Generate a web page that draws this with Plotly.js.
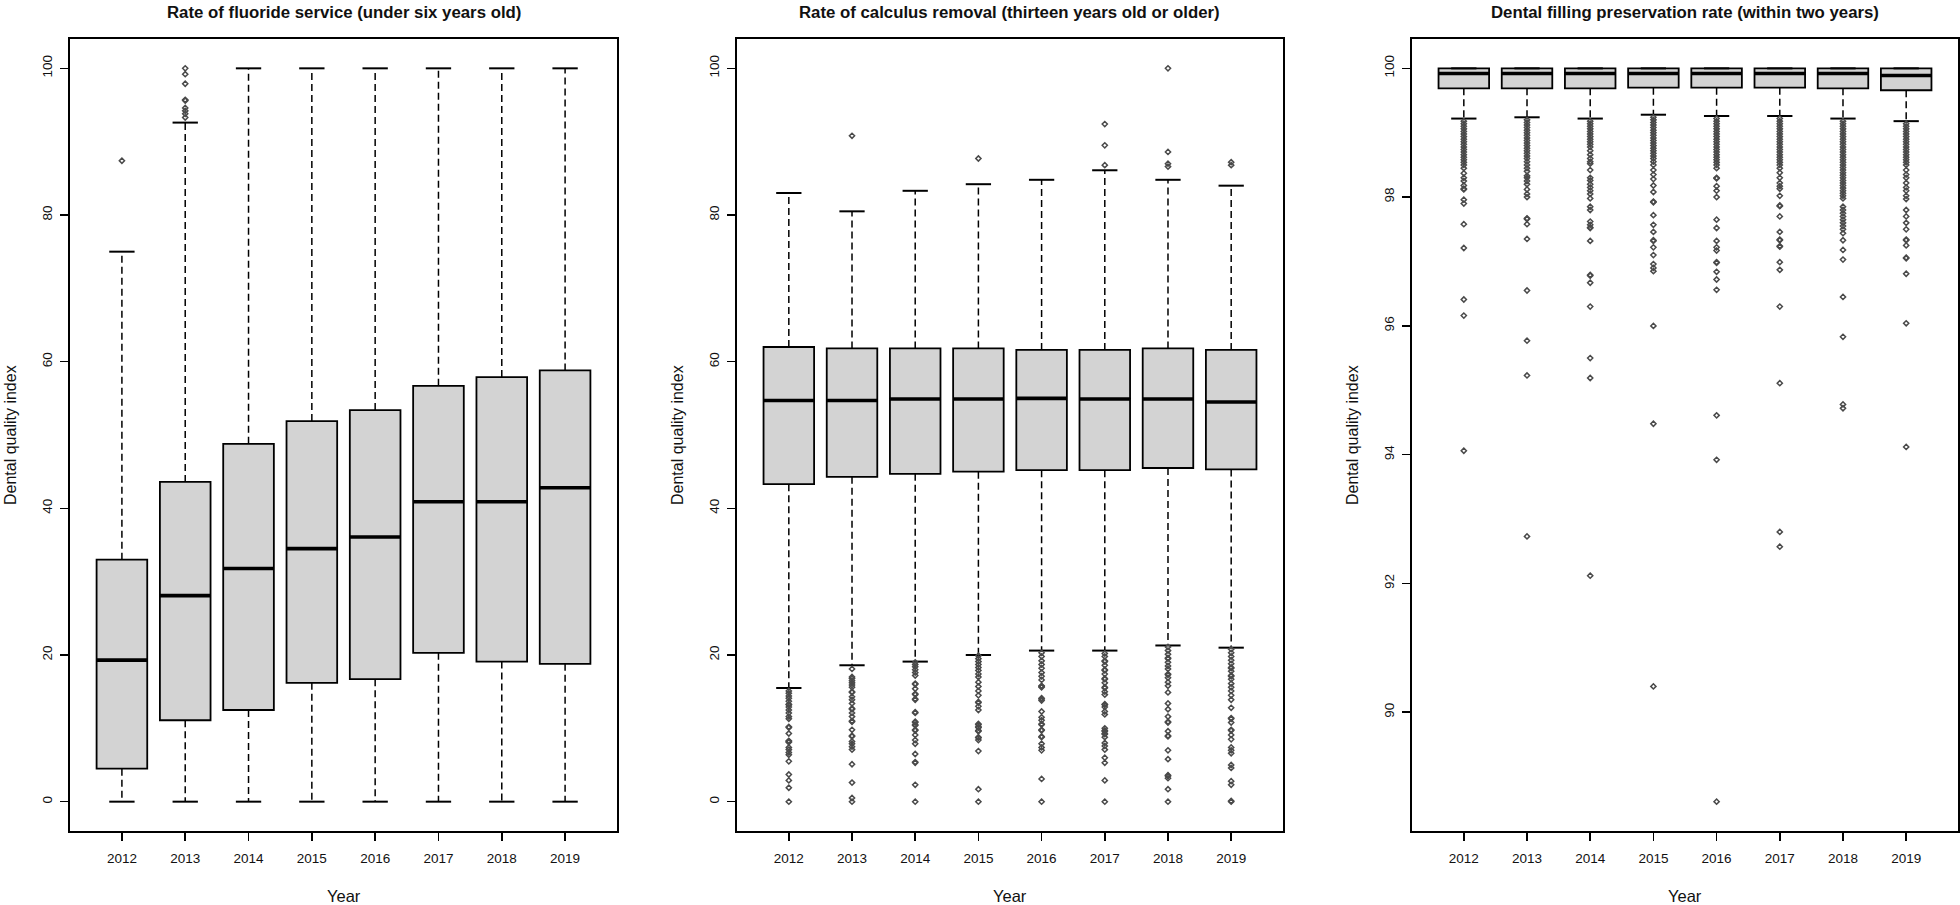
<!DOCTYPE html>
<html><head><meta charset="utf-8">
<script src="https://cdn.plot.ly/plotly-3.0.1.min.js"></script>
<style>html,body{margin:0;padding:0;background:#fff}#chart{width:1960px;height:905px}</style>
</head><body><div id="chart"></div>
<script>
const years = ['2012','2013','2014','2015','2016','2017','2018','2019'];

// Panel 1: Rate of fluoride service (under six years old)
const flQ1  = [4.5, 11.1, 12.5, 16.2, 16.7, 20.3, 19.1, 18.8];
const flMed = [19.3, 28.1, 31.8, 34.5, 36.1, 40.9, 40.9, 42.8];
const flQ3  = [33.0, 43.6, 48.8, 51.9, 53.4, 56.7, 57.9, 58.8];
const flLo  = [0, 0, 0, 0, 0, 0, 0, 0];
const flHi  = [75.0, 92.6, 100, 100, 100, 100, 100, 100];
const flOut = [
  [87.4],
  [100, 99.2, 97.9, 95.7, 95.6, 94.6, 94.2, 93.8, 93.3],
  [], [], [], [], [], []
];

// Panel 2: Rate of calculus removal (thirteen years old or older)
const caQ1  = [43.3, 44.3, 44.7, 45.0, 45.2, 45.2, 45.5, 45.3];
const caMed = [54.7, 54.7, 54.9, 54.9, 55.0, 54.9, 54.9, 54.5];
const caQ3  = [62.0, 61.8, 61.8, 61.8, 61.6, 61.6, 61.8, 61.6];
const caLo  = [15.5, 18.6, 19.1, 20.0, 20.6, 20.6, 21.3, 21.0];
const caHi  = [83.0, 80.5, 83.3, 84.2, 84.8, 86.1, 84.8, 84.0];
const caOut = [
  [15.1, 14.8, 14.4, 14.1, 13.7, 13.3, 13.2, 12.9, 12.5, 12.1, 11.6, 11.3, 10.2, 10.1, 9.3, 8.3, 8.2, 8.1, 7.4, 7.1, 6.7, 6.4, 5.5, 3.7, 2.9, 1.9, 0],
  [90.8, 18.1, 17.0, 16.8, 16.5, 16.2, 15.9, 15.6, 15.0, 14.9, 14.3, 13.9, 13.4, 12.7, 12.6, 12.1, 11.6, 11.0, 10.9, 9.8, 9.0, 8.9, 8.2, 7.9, 7.5, 7.1, 5.1, 2.6, 0.5, 0],
  [19.0, 18.7, 18.4, 18.0, 17.6, 17.2, 16.1, 16.0, 15.4, 14.7, 14.6, 14.0, 13.9, 12.2, 12.1, 10.9, 10.8, 10.5, 10.4, 9.8, 9.7, 9.1, 8.4, 7.9, 6.5, 5.4, 5.3, 2.3, 0],
  [87.7, 19.9, 19.5, 19.1, 18.7, 18.3, 17.9, 17.4, 17.0, 16.3, 15.7, 15.1, 14.5, 13.6, 13.5, 13.0, 12.5, 10.6, 10.5, 10.2, 10.1, 9.7, 9.6, 8.8, 8.7, 8.4, 6.9, 1.7, 0],
  [20.3, 19.8, 19.2, 18.7, 18.2, 17.6, 17.1, 16.6, 15.8, 15.7, 15.6, 14.1, 14.0, 13.8, 12.3, 11.5, 11.1, 10.6, 10.5, 9.8, 9.7, 8.9, 8.8, 7.9, 7.4, 7.0, 3.1, 0],
  [92.4, 89.5, 86.8, 20.2, 19.8, 19.2, 19.1, 18.6, 18.0, 17.9, 17.4, 16.8, 16.7, 16.2, 15.6, 15.5, 15.0, 14.6, 13.3, 13.2, 12.9, 12.3, 11.9, 10.0, 9.7, 9.6, 9.3, 9.2, 8.8, 8.0, 7.6, 7.1, 6.0, 5.3, 2.9, 0],
  [100, 88.6, 87.0, 86.6, 21.1, 20.6, 20.1, 19.6, 19.5, 19.0, 18.5, 18.1, 17.4, 17.3, 16.9, 16.3, 15.8, 14.9, 13.4, 12.6, 11.6, 10.9, 10.8, 9.6, 9.0, 8.9, 7.0, 5.8, 3.6, 3.5, 3.2, 1.7, 0],
  [87.2, 86.8, 20.8, 20.3, 19.8, 19.3, 18.8, 18.3, 18.2, 17.8, 17.2, 17.1, 16.7, 16.1, 15.6, 15.1, 14.5, 13.9, 12.8, 11.4, 11.3, 10.8, 9.8, 9.7, 9.1, 8.5, 7.4, 7.0, 6.6, 5.0, 4.6, 2.8, 2.3, 0.1, 0.0]
];

// Panel 3: Dental filling preservation rate (within two years)
const dfQ1  = [99.69, 99.69, 99.69, 99.70, 99.70, 99.70, 99.69, 99.66];
const dfMed = [99.92, 99.92, 99.92, 99.92, 99.92, 99.92, 99.92, 99.89];
const dfQ3  = [100, 100, 100, 100, 100, 100, 100, 100];
const dfLo  = [99.22, 99.24, 99.22, 99.28, 99.26, 99.26, 99.22, 99.18];
const dfHi  = [100, 100, 100, 100, 100, 100, 100, 100];
const dfOut = [
  [99.18, 99.14, 99.1, 99.06, 99.02, 98.98, 98.94, 98.9, 98.86, 98.82, 98.78, 98.74, 98.7, 98.66, 98.62, 98.58, 98.54, 98.5, 98.45, 98.37, 98.3, 98.25, 98.18, 98.13, 98.12, 97.96, 97.9, 97.58, 97.21, 96.41, 96.16, 94.06],
  [99.2, 99.16, 99.12, 99.08, 99.04, 99.0, 98.96, 98.92, 98.88, 98.84, 98.8, 98.76, 98.72, 98.68, 98.64, 98.6, 98.55, 98.5, 98.45, 98.4, 98.33, 98.3, 98.25, 98.2, 98.12, 98.05, 98.0, 97.67, 97.66, 97.58, 97.35, 96.55, 95.77, 95.23, 92.73],
  [99.18, 99.14, 99.1, 99.06, 99.02, 98.98, 98.94, 98.9, 98.86, 98.82, 98.78, 98.72, 98.66, 98.6, 98.55, 98.52, 98.42, 98.3, 98.26, 98.2, 98.15, 98.1, 98.05, 97.98, 97.85, 97.8, 97.62, 97.57, 97.53, 97.52, 97.32, 96.79, 96.78, 96.67, 96.3, 95.5, 95.19, 92.12],
  [99.24, 99.2, 99.16, 99.12, 99.08, 99.04, 99.0, 98.96, 98.92, 98.88, 98.84, 98.8, 98.76, 98.72, 98.68, 98.64, 98.6, 98.55, 98.5, 98.42, 98.35, 98.28, 98.18, 98.08, 97.93, 97.92, 97.72, 97.57, 97.46, 97.33, 97.32, 97.22, 97.1, 96.96, 96.9, 96.85, 96.0, 94.48, 90.4],
  [99.22, 99.18, 99.14, 99.1, 99.06, 99.02, 98.98, 98.94, 98.9, 98.86, 98.82, 98.78, 98.74, 98.7, 98.66, 98.62, 98.58, 98.54, 98.5, 98.45, 98.3, 98.29, 98.17, 98.1, 98.0, 97.65, 97.52, 97.32, 97.22, 97.17, 96.99, 96.98, 96.84, 96.72, 96.56, 94.61, 93.92, 88.61],
  [99.22, 99.18, 99.14, 99.1, 99.06, 99.02, 98.98, 98.94, 98.9, 98.86, 98.82, 98.78, 98.74, 98.7, 98.66, 98.62, 98.58, 98.54, 98.5, 98.45, 98.38, 98.3, 98.22, 98.17, 98.13, 98.02, 97.87, 97.86, 97.7, 97.46, 97.34, 97.33, 97.24, 97.23, 96.99, 96.87, 96.3, 95.11, 92.8, 92.57],
  [99.18, 99.14, 99.1, 99.06, 99.02, 98.98, 98.94, 98.9, 98.86, 98.82, 98.78, 98.74, 98.7, 98.66, 98.62, 98.58, 98.54, 98.5, 98.46, 98.42, 98.38, 98.34, 98.3, 98.26, 98.22, 98.18, 98.14, 98.1, 98.06, 98.02, 97.98, 97.85, 97.8, 97.75, 97.7, 97.65, 97.6, 97.55, 97.5, 97.44, 97.33, 97.18, 97.03, 96.45, 95.83, 94.78, 94.72],
  [99.14, 99.1, 99.06, 99.02, 98.98, 98.94, 98.9, 98.86, 98.82, 98.78, 98.74, 98.7, 98.66, 98.62, 98.58, 98.54, 98.5, 98.42, 98.35, 98.3, 98.22, 98.15, 98.1, 98.02, 97.97, 97.8, 97.7, 97.6, 97.5, 97.34, 97.33, 97.25, 97.06, 97.05, 96.81, 96.04, 94.12]
];

const titles = [
  'Rate of fluoride service (under six years old)',
  'Rate of calculus removal (thirteen years old or older)',
  'Dental filling preservation rate (within two years)'
];
const xLabel = 'Year';
const yLabel = 'Dental quality index';

const FONT = 'Liberation Sans, Arial, Helvetica, sans-serif';
const W = 1960, H = 905;
const frames = [[70, 617], [737, 1283], [1412, 1958]];
const plotTop = 39, plotBottom = 831;

function panelTraces(q1, med, q3, lo, hi, out, xa, ya) {
  const pos = years.map((_, i) => i + 1);
  const traces = [];
  const wx = [], wy = [];
  pos.forEach((p, i) => { wx.push(p, p, null, p, p, null); wy.push(q3[i], hi[i], null, q1[i], lo[i], null); });
  traces.push({type: 'scatter', mode: 'lines', x: wx, y: wy, xaxis: xa, yaxis: ya,
    line: {color: '#000', width: 1.5, dash: '7px,4px'}, hoverinfo: 'skip', showlegend: false});
  const cx = [], cy = [];
  pos.forEach((p, i) => { cx.push(p - 0.2, p + 0.2, null, p - 0.2, p + 0.2, null); cy.push(hi[i], hi[i], null, lo[i], lo[i], null); });
  traces.push({type: 'scatter', mode: 'lines', x: cx, y: cy, xaxis: xa, yaxis: ya,
    line: {color: '#000', width: 2}, hoverinfo: 'skip', showlegend: false});
  const ox = [], oy = [];
  out.forEach((arr, i) => arr.forEach(v => { ox.push(pos[i]); oy.push(v); }));
  traces.push({type: 'scatter', mode: 'markers', x: ox, y: oy, xaxis: xa, yaxis: ya,
    marker: {symbol: 'diamond-open', size: 4, color: '#4a4a4a', line: {width: 1.5, color: '#4a4a4a'}},
    hoverinfo: 'skip', showlegend: false, cliponaxis: true});
  traces.push({type: 'box', x: pos, q1: q1, median: med, q3: q3, lowerfence: q1, upperfence: q3,
    width: 0.8, fillcolor: '#d3d3d3', line: {color: '#000', width: 1.8}, boxpoints: false,
    whiskerwidth: 0, xaxis: xa, yaxis: ya, showlegend: false, hoverinfo: 'skip'});
  const mx = [], my = [];
  pos.forEach((p, i) => { mx.push(p - 0.4, p + 0.4, null); my.push(med[i], med[i], null); });
  traces.push({type: 'scatter', mode: 'lines', x: mx, y: my, xaxis: xa, yaxis: ya,
    line: {color: '#000', width: 3.6}, hoverinfo: 'skip', showlegend: false});
  return traces;
}

const data = [].concat(
  panelTraces(flQ1, flMed, flQ3, flLo, flHi, flOut, 'x', 'y'),
  panelTraces(caQ1, caMed, caQ3, caLo, caHi, caOut, 'x2', 'y2'),
  panelTraces(dfQ1, dfMed, dfQ3, dfLo, dfHi, dfOut, 'x3', 'y3')
);

const yDomain = [(H - plotBottom) / H, (H - plotTop) / H];
function xAxis(k, anchor) {
  return {
    domain: [frames[k][0] / W, frames[k][1] / W], anchor: anchor,
    range: [0.18, 8.82], tickvals: [1, 2, 3, 4, 5, 6, 7, 8], ticktext: years,
    ticks: 'outside', ticklen: 8, tickwidth: 1.5, tickcolor: '#000',
    showline: true, linewidth: 2, linecolor: '#000', mirror: true,
    showgrid: false, zeroline: false, ticklabelstandoff: 6,
    tickfont: {family: FONT, size: 13.5, color: '#111'}
  };
}
function yAxis(anchor, range, tickvals) {
  return {
    domain: yDomain, anchor: anchor, range: range, tickvals: tickvals,
    tickangle: -90, ticks: 'outside', ticklen: 8, tickwidth: 1.5, tickcolor: '#000',
    showline: true, linewidth: 2, linecolor: '#000', mirror: true,
    showgrid: false, zeroline: false, ticklabelstandoff: 3,
    tickfont: {family: FONT, size: 13.5, color: '#111'}
  };
}

const annotations = [];
frames.forEach((f, k) => {
  const cxp = (f[0] + f[1]) / 2 / W;
  annotations.push({xref: 'paper', yref: 'paper', x: cxp, y: (H - 12) / H, xanchor: 'center', yanchor: 'middle',
    text: '<b>' + titles[k] + '</b>', showarrow: false, font: {family: FONT, size: 16.8, color: '#111'}});
  annotations.push({xref: 'paper', yref: 'paper', x: cxp, y: 9 / H, xanchor: 'center', yanchor: 'middle',
    text: xLabel, showarrow: false, font: {family: FONT, size: 16.5, color: '#111'}});
  annotations.push({xref: 'paper', yref: 'paper', x: (f[0] - 60) / W, y: (H - (plotTop + plotBottom) / 2) / H,
    xanchor: 'center', yanchor: 'middle', textangle: -90,
    text: yLabel, showarrow: false, font: {family: FONT, size: 16, color: '#111'}});
});

const layout = {
  width: W, height: H, margin: {l: 0, r: 0, t: 0, b: 0},
  paper_bgcolor: '#fff', plot_bgcolor: '#fff', showlegend: false,
  xaxis: xAxis(0, 'y'), xaxis2: xAxis(1, 'y2'), xaxis3: xAxis(2, 'y3'),
  yaxis: yAxis('x', [-4, 104], [0, 20, 40, 60, 80, 100]),
  yaxis2: yAxis('x2', [-4, 104], [0, 20, 40, 60, 80, 100]),
  yaxis3: yAxis('x3', [88.154, 100.456], [90, 92, 94, 96, 98, 100]),
  annotations: annotations,
  font: {family: FONT}
};

Plotly.newPlot('chart', data, layout, {staticPlot: true, displayModeBar: false});
</script>
</body></html>
